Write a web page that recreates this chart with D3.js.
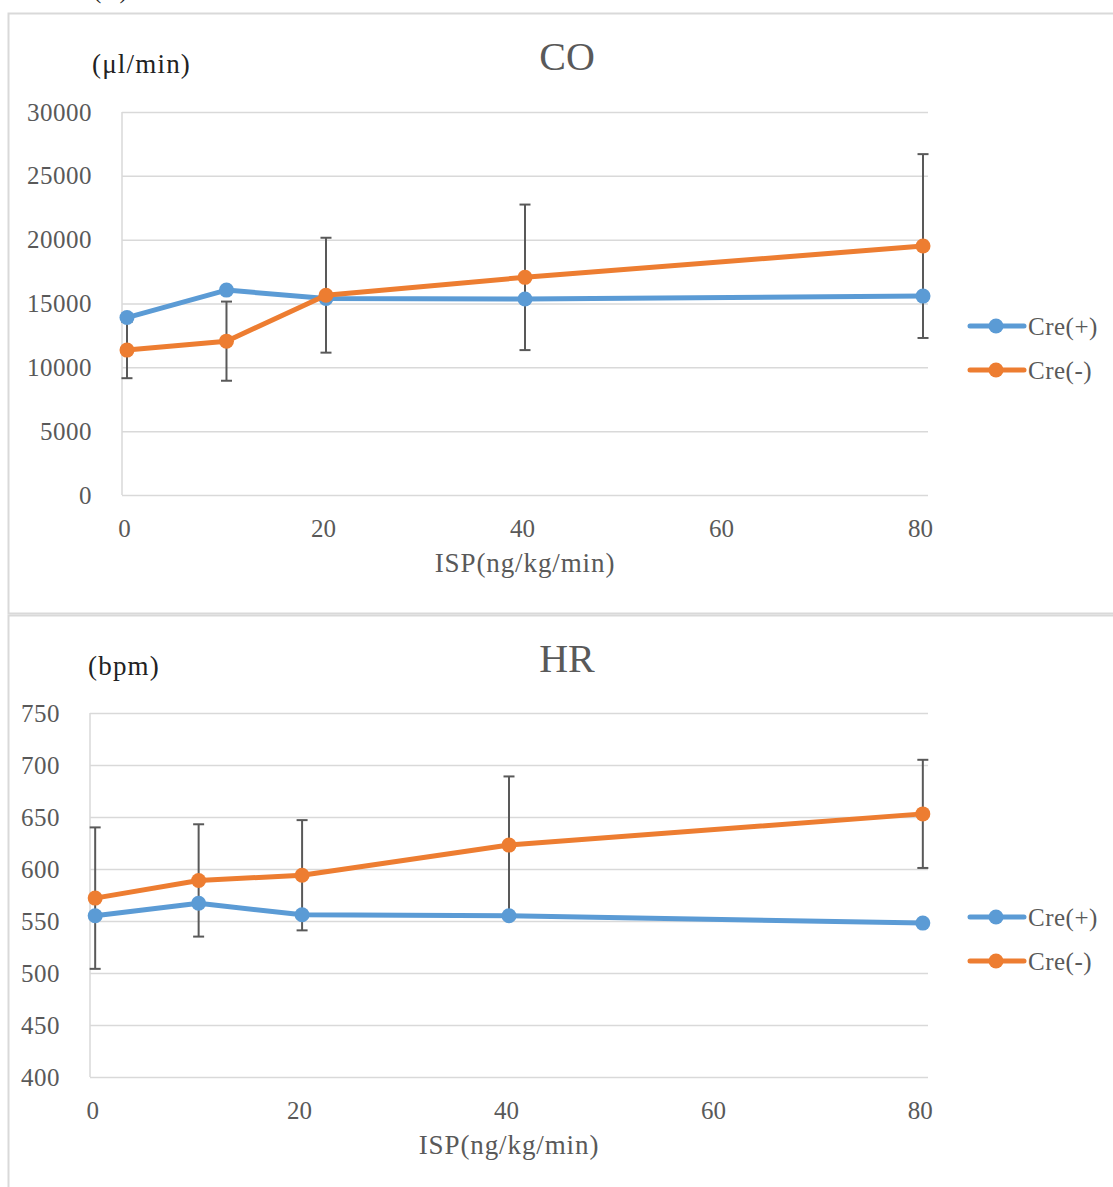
<!DOCTYPE html>
<html>
<head>
<meta charset="utf-8">
<script src="https://cdn.jsdelivr.net/npm/d3@7"></script>
<style>
  body { margin: 0; background: #fff; }
  svg { display: block; }
  text { font-family: "Liberation Serif", "Times New Roman", serif; }
</style>
</head>
<body>
<svg id="chart" width="1113" height="1187"></svg>
<script>
// data
const isp = [0, 10, 20, 40, 80]
const seriesNames = ['Cre(+)', 'Cre(-)']
const xTicks = [0, 20, 40, 60, 80]

const coCrePlus = [13900, 16050, 15400, 15350, 15580]
const coCreMinus = [11350, 12050, 15650, 17050, 19500]
const coCreMinusErr = [2200, 3100, 4500, 5700, 7200]
const coTicks = [0, 5000, 10000, 15000, 20000, 25000, 30000]

const hrCrePlus = [555, 567, 556, 555, 548]
const hrCreMinus = [572, 589, 594, 623, 653]
const hrCreMinusErr = [68, 54, 53, 66, 52]
const hrTicks = [400, 450, 500, 550, 600, 650, 700, 750]

const colors = ['#5B9BD5', '#ED7D31']
const grey = '#595959'

const svg = d3.select('#chart')

// panel label, cut off at the top like in the source
svg.append('text')
  .attr('x', 93).attr('y', -2)
  .attr('font-size', 25).attr('fill', '#222')
  .text('(A)')

const drawChart = cfg => {
  const g = svg.append('g')

  g.append('rect')
    .attr('x', 8.5).attr('y', cfg.boxTop + 0.5)
    .attr('width', 1120).attr('height', cfg.boxHeight)
    .attr('fill', '#fff')
    .attr('stroke', '#D9D9D9').attr('stroke-width', 2)

  const x = d3.scaleLinear()
    .domain([-0.5, 80.5])
    .range([cfg.left, 928])

  const y = d3.scaleLinear()
    .domain(d3.extent(cfg.yTicks))
    .range([cfg.bottom, cfg.top])

  // gridlines
  g.append('g')
    .attr('transform', `translate(${cfg.left}, 0)`)
    .call(d3.axisRight(y).tickValues(cfg.yTicks).tickSize(928 - cfg.left).tickFormat(''))
    .call(a => a.select('.domain').remove())
    .selectAll('line')
    .attr('stroke', '#D9D9D9').attr('stroke-width', 1.5)

  g.append('line')
    .attr('x1', cfg.left).attr('x2', cfg.left)
    .attr('y1', cfg.top).attr('y2', cfg.bottom)
    .attr('stroke', '#D9D9D9').attr('stroke-width', 1.5)

  // y labels
  g.append('g')
    .attr('transform', `translate(${cfg.left}, 0)`)
    .call(d3.axisLeft(y).tickValues(cfg.yTicks).tickSize(0).tickPadding(30).tickFormat(d3.format('d')))
    .call(a => a.select('.domain').remove())
    .selectAll('text')
    .attr('font-family', '"Liberation Serif", serif')
    .attr('font-size', 25).attr('letter-spacing', 0.5).attr('fill', grey)

  // x labels
  g.append('g')
    .attr('transform', `translate(-3, ${cfg.bottom})`)
    .call(d3.axisBottom(x).tickValues(xTicks).tickSize(0).tickPadding(24))
    .call(a => a.select('.domain').remove())
    .selectAll('text')
    .attr('font-family', '"Liberation Serif", serif')
    .attr('font-size', 25).attr('fill', grey)

  // error bars of Cre(-)
  const eb = g.append('g').attr('stroke', grey).attr('stroke-width', 2)
  isp.forEach((v, i) => {
    const lo = y(cfg.minus[i] - cfg.err[i]), hi = y(cfg.minus[i] + cfg.err[i])
    eb.append('line').attr('x1', x(v)).attr('x2', x(v)).attr('y1', lo).attr('y2', hi)
    eb.append('line').attr('x1', x(v) - 5.5).attr('x2', x(v) + 5.5).attr('y1', lo).attr('y2', lo)
    eb.append('line').attr('x1', x(v) - 5.5).attr('x2', x(v) + 5.5).attr('y1', hi).attr('y2', hi)
  })

  const line = d3.line()
    .x((d, i) => x(isp[i]))
    .y(d => y(d))

  ;[cfg.plus, cfg.minus].forEach((vals, s) => {
    g.append('path')
      .datum(vals)
      .attr('fill', 'none')
      .attr('stroke', colors[s])
      .attr('stroke-width', 5)
      .attr('stroke-linejoin', 'round')
      .attr('d', line)
    g.selectAll(null)
      .data(vals)
      .join('circle')
      .attr('cx', (d, i) => x(isp[i]))
      .attr('cy', d => y(d))
      .attr('r', 7.5)
      .attr('fill', colors[s])
  })

  // titles
  g.append('text')
    .attr('x', 567).attr('y', cfg.boxTop + 57)
    .attr('text-anchor', 'middle')
    .attr('font-size', 40).attr('fill', grey)
    .text(cfg.title)

  g.append('text')
    .attr('x', cfg.unitX).attr('y', cfg.boxTop + 60)
    .attr('font-size', 27).attr('letter-spacing', 1.2).attr('fill', '#222')
    .text(cfg.unit)

  g.append('text')
    .attr('x', (cfg.left + 928) / 2).attr('y', cfg.bottom + 77)
    .attr('text-anchor', 'middle')
    .attr('font-size', 27).attr('letter-spacing', 0.9).attr('fill', grey)
    .text('ISP(ng/kg/min)')

  // legend
  seriesNames.forEach((name, s) => {
    const ly = cfg.legendY + s * 44
    g.append('line')
      .attr('x1', 970).attr('x2', 1024).attr('y1', ly).attr('y2', ly)
      .attr('stroke', colors[s]).attr('stroke-width', 5)
      .attr('stroke-linecap', 'round')
    g.append('circle').attr('cx', 996).attr('cy', ly).attr('r', 7.5).attr('fill', colors[s])
    g.append('text')
      .attr('x', 1028).attr('y', ly).attr('dy', '0.35em')
      .attr('font-size', 25).attr('letter-spacing', 0.5).attr('fill', grey)
      .text(name)
  })
}

drawChart({
  boxTop: 13, boxHeight: 600, left: 122, top: 112, bottom: 495,
  yTicks: coTicks, plus: coCrePlus, minus: coCreMinus, err: coCreMinusErr,
  title: 'CO', unit: '(μl/min)', unitX: 92, legendY: 326
})

drawChart({
  boxTop: 615, boxHeight: 600, left: 90, top: 713, bottom: 1077,
  yTicks: hrTicks, plus: hrCrePlus, minus: hrCreMinus, err: hrCreMinusErr,
  title: 'HR', unit: '(bpm)', unitX: 88, legendY: 917
})
</script>
</body>
</html>
